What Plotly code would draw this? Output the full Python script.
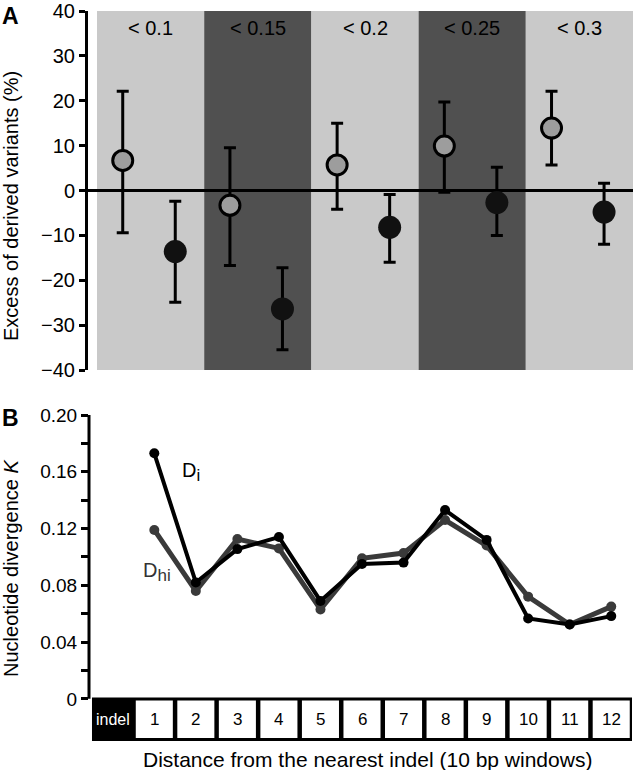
import plotly.graph_objects as go

# ---------------- Data ----------------
# Panel A
band_labels = ["< 0.1", "< 0.15", "< 0.2", "< 0.25", "< 0.3"]
gray_vals = [6.7, -3.3, 5.7, 9.9, 13.9]
gray_upper = [22.1, 9.5, 15.0, 19.7, 22.1]
gray_lower = [-9.4, -16.7, -4.2, -0.4, 5.7]
black_vals = [-13.6, -26.4, -8.2, -2.7, -4.8]
black_upper = [-2.4, -17.2, -0.9, 5.2, 1.6]
black_lower = [-24.9, -35.5, -16.0, -10.0, -12.0]
a_ticks = [-40, -30, -20, -10, 0, 10, 20, 30, 40]

# Panel B
window_labels = ["indel", "1", "2", "3", "4", "5", "6", "7", "8", "9", "10", "11", "12"]
windows = [1, 2, 3, 4, 5, 6, 7, 8, 9, 10, 11, 12]
D_i = [0.173, 0.082, 0.1055, 0.114, 0.069, 0.095, 0.096, 0.133, 0.112, 0.0566, 0.0524, 0.0583]
D_hi = [0.119, 0.076, 0.1126, 0.106, 0.063, 0.099, 0.1027, 0.126, 0.108, 0.072, 0.0524, 0.065]
b_tickvals = [0, 0.02, 0.04, 0.06, 0.08, 0.10, 0.12, 0.14, 0.16, 0.18, 0.20]
b_ticktext = ["0", " ", "0.04", " ", "0.08", " ", "0.12", " ", "0.16", " ", "0.20"]

# ---------------- Layout helpers ----------------
W, H = 633, 770
FONT = "Liberation Sans, Arial, Helvetica, sans-serif"


def px_x(p):
    return p / W


def px_y(p):
    return 1 - p / H


GRAY_OFF = -0.26
BLACK_OFF = 0.23
band_x = list(range(1, len(band_labels) + 1))

fig = go.Figure()

# Panel A traces
fig.add_trace(go.Scatter(
    x=[b + GRAY_OFF for b in band_x], y=gray_vals, mode="markers",
    marker=dict(size=20, color="#9d9d9d", line=dict(color="black", width=3)),
    error_y=dict(type="data", symmetric=False,
                 array=[u - v for u, v in zip(gray_upper, gray_vals)],
                 arrayminus=[v - l for v, l in zip(gray_vals, gray_lower)],
                 color="black", thickness=3, width=6),
    xaxis="x", yaxis="y", showlegend=False, cliponaxis=False))
fig.add_trace(go.Scatter(
    x=[b + BLACK_OFF for b in band_x], y=black_vals, mode="markers",
    marker=dict(size=23, color="#111111", line=dict(color="#111111", width=0)),
    error_y=dict(type="data", symmetric=False,
                 array=[u - v for u, v in zip(black_upper, black_vals)],
                 arrayminus=[v - l for v, l in zip(black_vals, black_lower)],
                 color="black", thickness=3, width=6),
    xaxis="x", yaxis="y", showlegend=False, cliponaxis=False))

# Panel B traces
fig.add_trace(go.Scatter(
    x=windows, y=D_hi, mode="lines+markers",
    line=dict(color="#3a3a3a", width=5),
    marker=dict(size=10, color="#3a3a3a"),
    xaxis="x2", yaxis="y2", showlegend=False))
fig.add_trace(go.Scatter(
    x=windows, y=D_i, mode="lines+markers",
    line=dict(color="#000000", width=4),
    marker=dict(size=10, color="#000000"),
    xaxis="x2", yaxis="y2", showlegend=False))

shapes = []
# background bands for panel A
for i, b in enumerate(band_x):
    shapes.append(dict(type="rect", xref="x", yref="y", x0=b - 0.5, x1=b + 0.5,
                       y0=-40, y1=40, fillcolor="#c9c9c9" if i % 2 == 0 else "#505050",
                       line=dict(width=0), layer="below"))

# panel B y-axis line (0 to 0.20)
shapes.append(dict(type="line", xref="x2 domain", yref="y2", x0=0, x1=0, y0=0, y1=0.2,
                   line=dict(color="black", width=3)))

# window boxes below panel B
B_BOT = -0.0297
shapes.append(dict(type="rect", xref="x2", yref="y2", x0=-0.5, x1=len(window_labels) - 0.5,
                   y0=B_BOT, y1=0.001, fillcolor="black", line=dict(width=0)))
for k in range(1, len(window_labels)):
    shapes.append(dict(type="rect", xref="x2", yref="y2", x0=k - 0.5 + 0.054, x1=k + 0.5 - 0.054,
                       y0=B_BOT + 0.0021, y1=-0.0011, fillcolor="white", line=dict(width=0)))

annotations = []
for b, lab in zip(band_x, band_labels):
    annotations.append(dict(x=b, y=px_y(28), xref="x", yref="paper", text=lab, showarrow=False,
                            font=dict(family=FONT, size=20, color="black"),
                            xanchor="center", yanchor="middle"))
for k, lab in enumerate(window_labels):
    annotations.append(dict(x=k, y=B_BOT / 2, xref="x2", yref="y2", text=lab, showarrow=False,
                            font=dict(family=FONT, size=16 if k == 0 else 17,
                                      color="white" if k == 0 else "black"),
                            xanchor="center", yanchor="middle"))

annotations += [
    dict(x=px_x(10), y=px_y(16), xref="paper", yref="paper", text="<b>A</b>", showarrow=False,
         font=dict(family=FONT, size=23, color="black"), xanchor="center", yanchor="middle"),
    dict(x=px_x(10), y=px_y(418), xref="paper", yref="paper", text="<b>B</b>", showarrow=False,
         font=dict(family=FONT, size=23, color="black"), xanchor="center", yanchor="middle"),
    dict(x=px_x(11), y=px_y(206), xref="paper", yref="paper", text="Excess of derived variants (%)",
         showarrow=False, textangle=-90, font=dict(family=FONT, size=20, color="black"),
         xanchor="center", yanchor="middle"),
    dict(x=px_x(11), y=px_y(568), xref="paper", yref="paper", text="Nucleotide divergence <i>K</i>",
         showarrow=False, textangle=-90, font=dict(family=FONT, size=20, color="black"),
         xanchor="center", yanchor="middle"),
    dict(x=px_x(367), y=px_y(759), xref="paper", yref="paper",
         text="Distance from the nearest indel (10 bp windows)", showarrow=False,
         font=dict(family=FONT, size=21, color="black"), xanchor="center", yanchor="middle"),
    dict(x=px_x(180), y=px_y(472), xref="paper", yref="paper",
         text="D<sub><span style='font-size:17px'>i</span></sub>", showarrow=False,
         font=dict(family=FONT, size=20, color="black"), xanchor="left", yanchor="middle"),
    dict(x=px_x(141), y=px_y(572), xref="paper", yref="paper",
         text="D<sub><span style='font-size:17px'>hi</span></sub>", showarrow=False,
         font=dict(family=FONT, size=20, color="#333333"), xanchor="left", yanchor="middle"),
]

fig.update_layout(
    width=W, height=H, margin=dict(l=0, r=0, t=0, b=0, autoexpand=False),
    paper_bgcolor="white", plot_bgcolor="white",
    font=dict(family=FONT, color="black"),
    xaxis=dict(domain=[px_x(88), 1], range=[0.416, 5.5], showgrid=False, zeroline=False,
               showline=False, showticklabels=False, ticks="", anchor="y", automargin=False),
    yaxis=dict(domain=[px_y(370), px_y(11)], range=[-40, 40], tickvals=a_ticks,
               showgrid=False, zeroline=True, zerolinecolor="black", zerolinewidth=3,
               showline=True, linecolor="black", linewidth=3, ticks="outside", ticklen=6,
               tickwidth=3, tickcolor="black", tickfont=dict(family=FONT, size=20, color="black"),
               anchor="x", automargin=False),
    xaxis2=dict(domain=[px_x(89), 1], range=[-0.572, 12.524], showgrid=False, zeroline=False,
                showline=False, showticklabels=False, ticks="", anchor="y2", automargin=False),
    yaxis2=dict(domain=[px_y(741), px_y(415)], range=[B_BOT, 0.2], tickvals=b_tickvals,
                ticktext=b_ticktext, showgrid=False, zeroline=False, showline=False,
                ticks="outside", ticklen=7, tickwidth=3, tickcolor="black",
                tickfont=dict(family=FONT, size=19, color="black"), anchor="x2", automargin=False),
    shapes=shapes, annotations=annotations,
)

fig.write_html("out.html", config={"displayModeBar": False},
               post_script="document.body.style.margin='0px';")
